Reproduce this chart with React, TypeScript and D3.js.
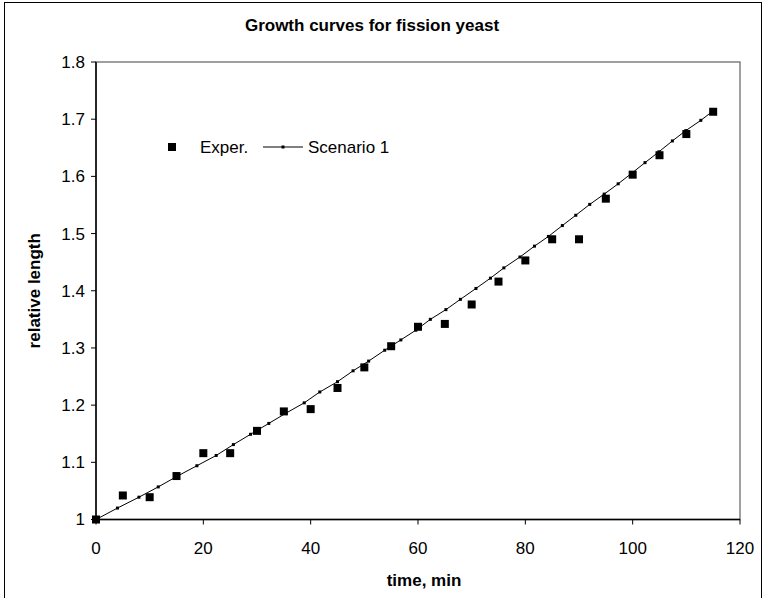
import React from 'react';
import * as d3 from 'd3';

// experimental measurements (every 5 min)
const expTimes = [0, 5, 10, 15, 20, 25, 30, 35, 40, 45, 50, 55, 60, 65, 70, 75, 80, 85, 90, 95, 100, 105, 110, 115];
const expValues = [1.0, 1.042, 1.039, 1.076, 1.116, 1.116, 1.155, 1.189, 1.193, 1.23, 1.266, 1.303, 1.337, 1.342, 1.376, 1.416, 1.453, 1.49, 1.49, 1.561, 1.603, 1.637, 1.674, 1.713];

// model output, Scenario 1
const simTimes = [0, 4.0, 8.0, 11.6, 15.2, 18.8, 22.4, 25.6, 28.8, 32.2, 35.4, 38.8, 41.7, 45.0, 47.9, 50.8, 53.8, 56.8, 59.6, 62.3, 65.2, 67.9, 70.8, 73.5, 76.0, 79.0, 81.7, 84.3, 86.9, 89.4, 92.0, 94.7, 97.3, 99.9, 102.3, 104.9, 107.4, 109.9, 112.7, 115.2];
const simValues = [1.0, 1.02, 1.039, 1.057, 1.076, 1.094, 1.112, 1.131, 1.149, 1.168, 1.186, 1.204, 1.223, 1.241, 1.26, 1.277, 1.296, 1.314, 1.331, 1.35, 1.367, 1.385, 1.404, 1.422, 1.44, 1.459, 1.478, 1.495, 1.514, 1.532, 1.551, 1.569, 1.587, 1.606, 1.624, 1.643, 1.662, 1.68, 1.698, 1.716];

const xTicks = [0, 20, 40, 60, 80, 100, 120];
const yTicks = [1, 1.1, 1.2, 1.3, 1.4, 1.5, 1.6, 1.7, 1.8];

const W = 765;
const H = 598;
const font = "'Liberation Sans', Arial, sans-serif";

export default function App() {
  const left = 96, right = 740, top = 62, bottom = 519.5;
  const x = d3.scaleLinear().domain([0, 120]).range([left, right]);
  const y = d3.scaleLinear().domain([1, 1.8]).range([bottom, top]);

  const sim = simTimes.map((t, i) => [t, simValues[i]] as [number, number]);
  const line = d3.line<[number, number]>().x(d => x(d[0])).y(d => y(d[1]));

  const yFmt = (v: number) => (v === 1 ? '1' : d3.format('.1f')(v));

  return (
    <svg width={W} height={H} style={{ position: 'absolute', left: 0, top: 0, background: '#fff' }} fontFamily={font}>
      <rect x={0} y={0} width={W} height={H} fill="#fff" />
      {/* chart area border */}
      <rect x={4.5} y={2.5} width={757} height={H + 5} fill="none" stroke="#000" strokeWidth={1} />

      <text x={372} y={31} textAnchor="middle" fontSize={17} fontWeight="bold" fill="#000">
        Growth curves for fission yeast
      </text>

      {/* plot area frame */}
      <rect x={left} y={top} width={right - left} height={bottom - top} fill="none" stroke="#808080" strokeWidth={1.5} />

      {/* y axis */}
      <line x1={left} y1={top} x2={left} y2={bottom} stroke="#000" strokeWidth={1.5} />
      {yTicks.map(v => (
        <g key={v}>
          <line x1={left - 5} x2={left} y1={y(v)} y2={y(v)} stroke="#000" strokeWidth={1} />
          <text x={left - 11} y={y(v)} dy="0.35em" textAnchor="end" fontSize={17} fill="#000">{yFmt(v)}</text>
        </g>
      ))}

      {/* x axis */}
      <line x1={left} y1={bottom} x2={right} y2={bottom} stroke="#000" strokeWidth={1.5} />
      {xTicks.map(v => (
        <g key={v}>
          <line x1={x(v)} x2={x(v)} y1={bottom} y2={bottom + 5} stroke="#000" strokeWidth={1} />
          <text x={x(v)} y={554} textAnchor="middle" fontSize={17} fill="#000">{v}</text>
        </g>
      ))}

      <text x={424} y={586} textAnchor="middle" fontSize={17} fontWeight="bold" fill="#000">time, min</text>
      <text transform={`translate(40,${(top + bottom) / 2}) rotate(-90)`} textAnchor="middle" fontSize={17} fontWeight="bold" fill="#000">
        relative length
      </text>

      {/* scenario line */}
      <path d={line(sim) ?? ''} fill="none" stroke="#000" strokeWidth={1} />
      {sim.map((d, i) => (
        <rect key={'s' + i} x={x(d[0]) - 1.5} y={y(d[1]) - 1.5} width={3} height={3} fill="#000" />
      ))}

      {/* experimental points */}
      {expTimes.map((t, i) => (
        <rect key={'e' + i} x={x(t) - 4} y={y(expValues[i]) - 4} width={8} height={8} fill="#000" />
      ))}

      {/* legend */}
      <rect x={168} y={143} width={8} height={8} fill="#000" />
      <text x={200} y={153} fontSize={17} fill="#000">Exper.</text>
      <line x1={263} x2={303} y1={147} y2={147} stroke="#000" strokeWidth={1} />
      <rect x={281.5} y={145.5} width={3} height={3} fill="#000" />
      <text x={308} y={153} fontSize={17} fill="#000">Scenario 1</text>
    </svg>
  );
}
